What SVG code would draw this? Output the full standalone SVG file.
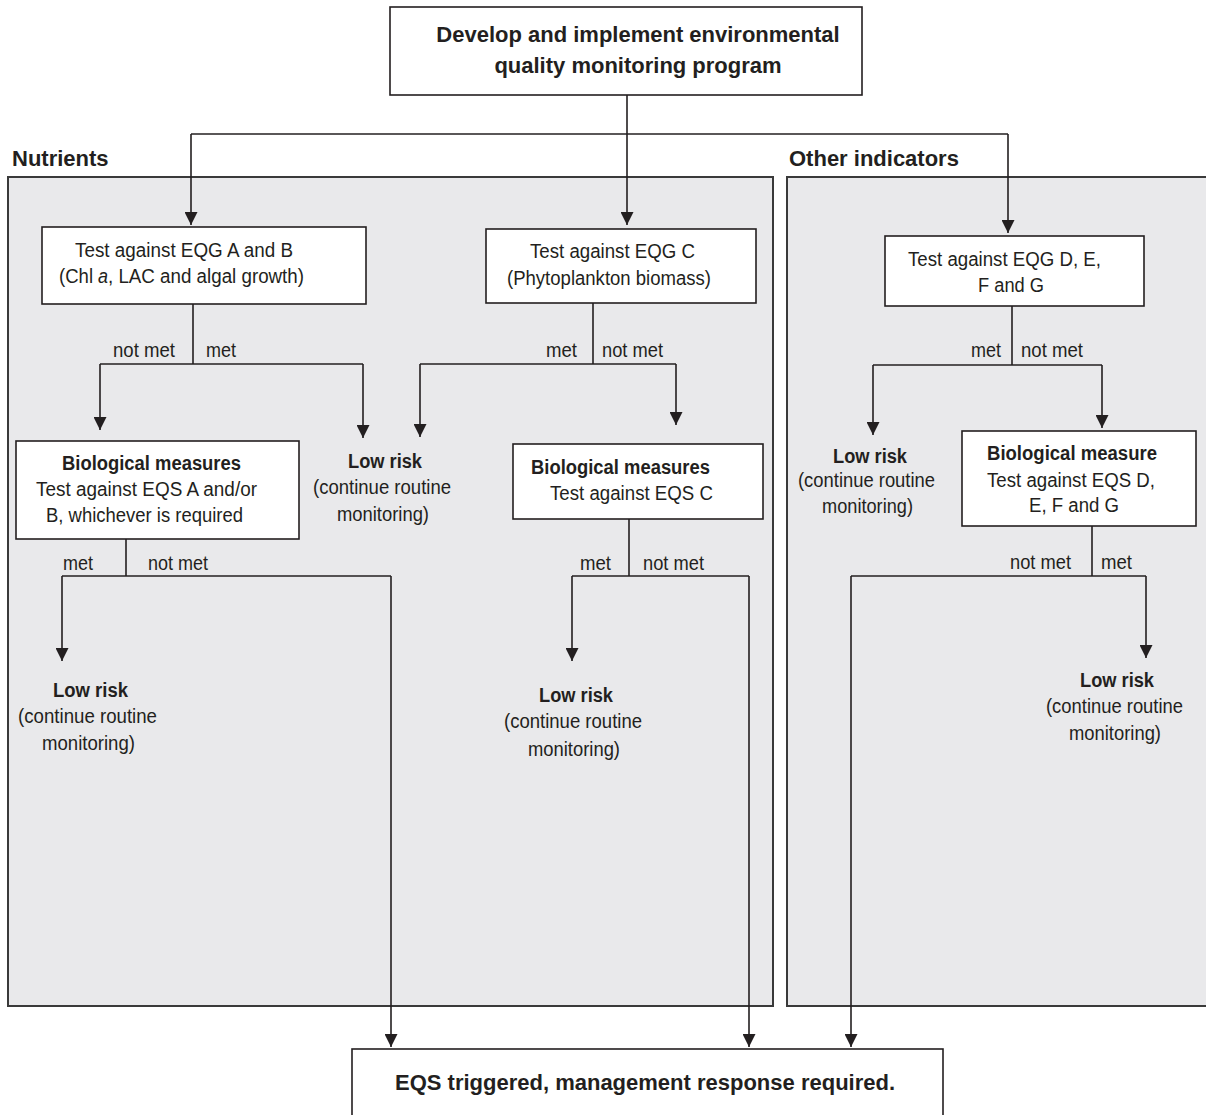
<svg xmlns="http://www.w3.org/2000/svg" width="1206" height="1115" viewBox="0 0 1206 1115">
  <style>
    text { font-family: "Liberation Sans", Arial, sans-serif; fill: #231f20; }
    .t { font-size: 20px; }
    .i { font-size: 20px; font-style: italic; }
    .b { font-size: 20px; font-weight: bold; }
    .h { font-size: 22px; font-weight: bold; }
    .box { fill: #ffffff; stroke: #231f20; stroke-width: 1.6; }
    .panel { fill: #e9e9eb; stroke: #3a3a3a; stroke-width: 2; }
    .wire { fill: none; stroke: #231f20; stroke-width: 1.6; }
    .arrow { marker-end: url(#head); }
  </style>
  <defs>
    <marker id="head" viewBox="0 0 13 13" refX="13" refY="6.5" markerWidth="13" markerHeight="13" markerUnits="userSpaceOnUse" orient="auto">
      <path d="M0,0 L13,6.5 L0,13 Z" fill="#231f20"/>
    </marker>
  </defs>

  <rect width="1206" height="1115" fill="#ffffff"/>

  <!-- grouping panels -->
  <g id="panel-nutrients">
    <rect class="panel" x="8" y="177" width="765" height="829"/>
    <text class="h" x="12" y="166">Nutrients</text>
  </g>
  <g id="panel-other">
    <rect class="panel" x="787" y="177" width="430" height="829"/>
    <text class="h" x="789" y="166">Other indicators</text>
  </g>

  <!-- connectors -->
  <g id="connectors">
    <line class="wire" x1="627" y1="95" x2="627" y2="134"/>
    <line class="wire" x1="191" y1="134" x2="1008" y2="134"/>
    <polyline class="wire arrow" points="191,134 191,225"/>
    <polyline class="wire arrow" points="627,134 627,225"/>
    <polyline class="wire arrow" points="1008,134 1008,233"/>

    <!-- EQG A and B -->
    <line class="wire" x1="193" y1="304" x2="193" y2="364"/>
    <line class="wire" x1="100" y1="364" x2="363" y2="364"/>
    <polyline class="wire arrow" points="100,364 100,430"/>
    <polyline class="wire arrow" points="363,364 363,438"/>

    <!-- EQS A and/or B -->
    <line class="wire" x1="126" y1="539" x2="126" y2="576"/>
    <line class="wire" x1="62" y1="576" x2="391" y2="576"/>
    <polyline class="wire arrow" points="62,576 62,661"/>
    <polyline class="wire arrow" points="391,576 391,1047"/>

    <!-- EQG C -->
    <line class="wire" x1="593" y1="303" x2="593" y2="364"/>
    <line class="wire" x1="420" y1="364" x2="676" y2="364"/>
    <polyline class="wire arrow" points="420,364 420,437"/>
    <polyline class="wire arrow" points="676,364 676,425"/>

    <!-- EQS C -->
    <line class="wire" x1="629" y1="519" x2="629" y2="576"/>
    <line class="wire" x1="572" y1="576" x2="749" y2="576"/>
    <polyline class="wire arrow" points="572,576 572,661"/>
    <polyline class="wire arrow" points="749,576 749,1047"/>

    <!-- EQG D-G -->
    <line class="wire" x1="1012" y1="306" x2="1012" y2="365"/>
    <line class="wire" x1="873" y1="365" x2="1102" y2="365"/>
    <polyline class="wire arrow" points="873,365 873,435"/>
    <polyline class="wire arrow" points="1102,365 1102,428"/>

    <!-- EQS D-G -->
    <line class="wire" x1="1092" y1="526" x2="1092" y2="576"/>
    <line class="wire" x1="851" y1="576" x2="1146" y2="576"/>
    <polyline class="wire arrow" points="1146,576 1146,658"/>
    <polyline class="wire arrow" points="851,576 851,1047"/>

    <!-- branch labels -->
    <text class="t" x="113" y="357" textLength="62" lengthAdjust="spacingAndGlyphs">not met</text>
    <text class="t" x="206" y="357" textLength="30" lengthAdjust="spacingAndGlyphs">met</text>
    <text class="t" x="63" y="570" textLength="30" lengthAdjust="spacingAndGlyphs">met</text>
    <text class="t" x="148" y="570" textLength="60" lengthAdjust="spacingAndGlyphs">not met</text>
    <text class="t" x="546" y="357" textLength="31" lengthAdjust="spacingAndGlyphs">met</text>
    <text class="t" x="602" y="357" textLength="61" lengthAdjust="spacingAndGlyphs">not met</text>
    <text class="t" x="580" y="570" textLength="31" lengthAdjust="spacingAndGlyphs">met</text>
    <text class="t" x="643" y="570" textLength="61" lengthAdjust="spacingAndGlyphs">not met</text>
    <text class="t" x="971" y="357" textLength="30" lengthAdjust="spacingAndGlyphs">met</text>
    <text class="t" x="1021" y="357" textLength="62" lengthAdjust="spacingAndGlyphs">not met</text>
    <text class="t" x="1010" y="569" textLength="61" lengthAdjust="spacingAndGlyphs">not met</text>
    <text class="t" x="1101" y="569" textLength="31" lengthAdjust="spacingAndGlyphs">met</text>
  </g>

  <!-- nodes -->
  <g id="start">
    <rect class="box" x="390" y="7" width="472" height="88"/>
    <text class="h" x="638" y="42" text-anchor="middle">Develop and implement environmental</text>
    <text class="h" x="638" y="73" text-anchor="middle">quality monitoring program</text>
  </g>

  <g id="eqg-ab">
    <rect class="box" x="42" y="227" width="324" height="77"/>
    <text class="t" x="75" y="257" textLength="218" lengthAdjust="spacingAndGlyphs">Test against EQG A and B</text>
    <text class="t" x="59" y="283" textLength="34" lengthAdjust="spacingAndGlyphs">(Chl</text>
    <text class="i" x="98" y="283" textLength="10" lengthAdjust="spacingAndGlyphs">a</text>
    <text class="t" x="108" y="283" textLength="196" lengthAdjust="spacingAndGlyphs">, LAC and algal growth)</text>
  </g>

  <g id="eqg-c">
    <rect class="box" x="486" y="229" width="270" height="74"/>
    <text class="t" x="530" y="258" textLength="165" lengthAdjust="spacingAndGlyphs">Test against EQG C</text>
    <text class="t" x="507" y="285" textLength="204" lengthAdjust="spacingAndGlyphs">(Phytoplankton biomass)</text>
  </g>

  <g id="eqg-dg">
    <rect class="box" x="885" y="236" width="259" height="70"/>
    <text class="t" x="908" y="266" textLength="193" lengthAdjust="spacingAndGlyphs">Test against EQG D, E,</text>
    <text class="t" x="978" y="292" textLength="66" lengthAdjust="spacingAndGlyphs">F and G</text>
  </g>

  <g id="eqs-ab">
    <rect class="box" x="16" y="441" width="283" height="98"/>
    <text class="b" x="62" y="470" textLength="179" lengthAdjust="spacingAndGlyphs">Biological measures</text>
    <text class="t" x="36" y="496" textLength="221" lengthAdjust="spacingAndGlyphs">Test against EQS A and/or</text>
    <text class="t" x="46" y="522" textLength="197" lengthAdjust="spacingAndGlyphs">B, whichever is required</text>
  </g>

  <g id="eqs-c">
    <rect class="box" x="513" y="444" width="250" height="75"/>
    <text class="b" x="531" y="474" textLength="179" lengthAdjust="spacingAndGlyphs">Biological measures</text>
    <text class="t" x="550" y="500" textLength="163" lengthAdjust="spacingAndGlyphs">Test against EQS C</text>
  </g>

  <g id="eqs-dg">
    <rect class="box" x="962" y="431" width="234" height="95"/>
    <text class="b" x="987" y="460" textLength="170" lengthAdjust="spacingAndGlyphs">Biological measure</text>
    <text class="t" x="987" y="487" textLength="168" lengthAdjust="spacingAndGlyphs">Test against EQS D,</text>
    <text class="t" x="1029" y="512" textLength="90" lengthAdjust="spacingAndGlyphs">E, F and G</text>
  </g>

  <g id="low-risk-1">
    <text class="b" x="348" y="468" textLength="74" lengthAdjust="spacingAndGlyphs">Low risk</text>
    <text class="t" x="313" y="494" textLength="138" lengthAdjust="spacingAndGlyphs">(continue routine</text>
    <text class="t" x="337" y="521" textLength="92" lengthAdjust="spacingAndGlyphs">monitoring)</text>
  </g>

  <g id="low-risk-2">
    <text class="b" x="53" y="697" textLength="75" lengthAdjust="spacingAndGlyphs">Low risk</text>
    <text class="t" x="18" y="723" textLength="139" lengthAdjust="spacingAndGlyphs">(continue routine</text>
    <text class="t" x="42" y="750" textLength="93" lengthAdjust="spacingAndGlyphs">monitoring)</text>
  </g>

  <g id="low-risk-3">
    <text class="b" x="539" y="702" textLength="74" lengthAdjust="spacingAndGlyphs">Low risk</text>
    <text class="t" x="504" y="728" textLength="138" lengthAdjust="spacingAndGlyphs">(continue routine</text>
    <text class="t" x="528" y="756" textLength="92" lengthAdjust="spacingAndGlyphs">monitoring)</text>
  </g>

  <g id="low-risk-4">
    <text class="b" x="833" y="463" textLength="74" lengthAdjust="spacingAndGlyphs">Low risk</text>
    <text class="t" x="798" y="487" textLength="137" lengthAdjust="spacingAndGlyphs">(continue routine</text>
    <text class="t" x="822" y="513" textLength="91" lengthAdjust="spacingAndGlyphs">monitoring)</text>
  </g>

  <g id="low-risk-5">
    <text class="b" x="1080" y="687" textLength="74" lengthAdjust="spacingAndGlyphs">Low risk</text>
    <text class="t" x="1046" y="713" textLength="137" lengthAdjust="spacingAndGlyphs">(continue routine</text>
    <text class="t" x="1069" y="740" textLength="92" lengthAdjust="spacingAndGlyphs">monitoring)</text>
  </g>

  <g id="eqs-triggered">
    <rect class="box" x="352" y="1049" width="591" height="80"/>
    <text class="h" x="395" y="1090">EQS triggered, management response required.</text>
  </g>
</svg>
